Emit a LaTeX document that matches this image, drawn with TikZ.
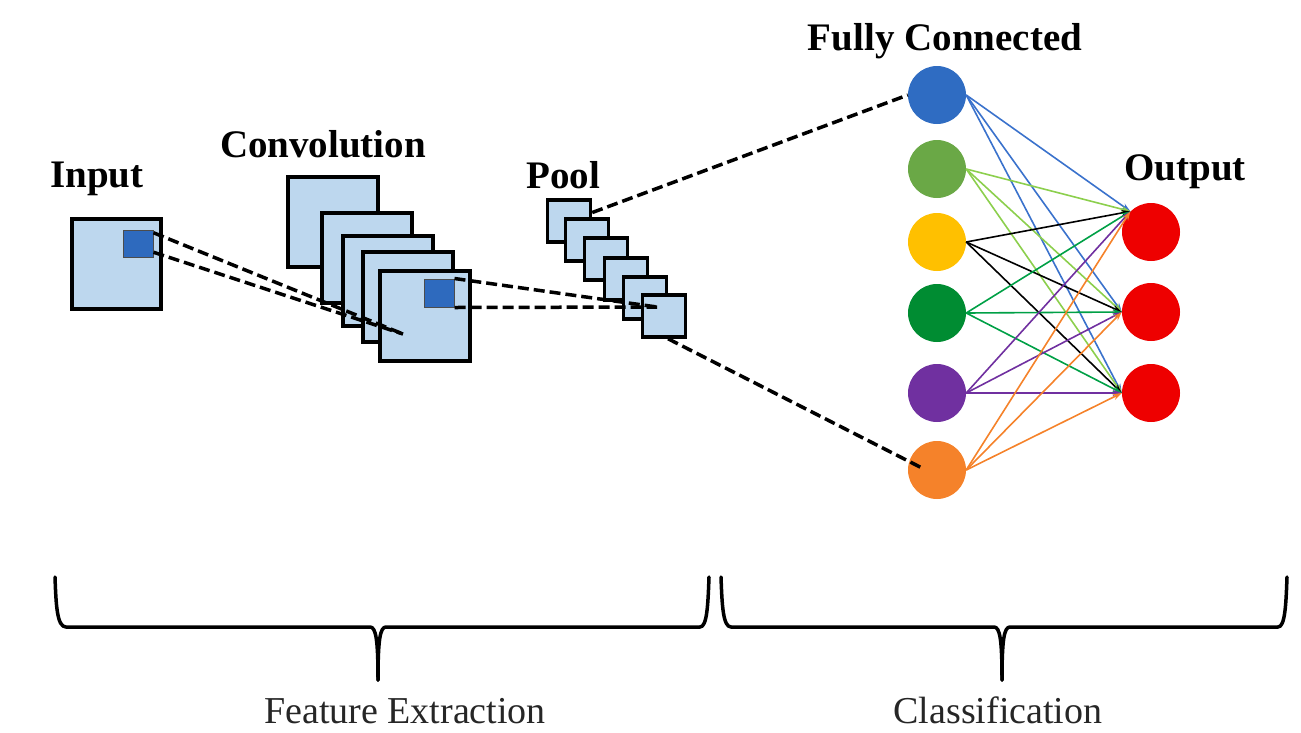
\documentclass[tikz,border=0pt]{standalone}
\usepackage{fontspec}
\setmainfont{Liberation Serif}
\usetikzlibrary{arrows.meta,calc}
\definecolor{sqfill}{HTML}{BDD7EE}
\definecolor{kblue}{HTML}{2E6ABE}
\definecolor{nblue}{HTML}{2F6CC2}
\definecolor{ngreen}{HTML}{6AA846}
\definecolor{nyellow}{HTML}{FFC000}
\definecolor{ndgreen}{HTML}{008C32}
\definecolor{npurple}{HTML}{7030A0}
\definecolor{norange}{HTML}{F5822A}
\definecolor{nred}{HTML}{EE0000}
\definecolor{lblue}{HTML}{3A72CC}
\definecolor{lgreen}{HTML}{8CCF4D}
\definecolor{ldgreen}{HTML}{00A046}
\definecolor{lpurple}{HTML}{7030A0}
\definecolor{lorange}{HTML}{F5822A}
\begin{document}
\begin{tikzpicture}[x=1pt,y=-1pt,
  sq/.style={draw=black, line width=4pt, fill=sqfill, inner sep=0pt, minimum width=90pt, minimum height=90pt},
  psq/.style={sq, line width=3.5pt, minimum width=43pt, minimum height=42pt},
  ksq/.style={draw=black!70, line width=1pt, fill=kblue, inner sep=0pt, minimum width=30pt, minimum height=27pt},
  dsh/.style={black, line width=3.5pt, dash pattern=on 11pt off 5pt},
  neuron/.style={circle, inner sep=0pt, minimum size=58pt},
  lbl/.style={font=\fontsize{39}{45}\selectfont\bfseries, anchor=base, inner sep=0pt},
  bottomlbl/.style={font=\fontsize{38}{44}\selectfont, text=black!85, anchor=base, inner sep=0pt},
  conn/.style={line width=1.6pt, -{Stealth[length=9pt,width=6pt]}},
  brc/.style={line width=3.5pt, line cap=round, line join=round}]
\useasboundingbox (0,0) rectangle (1301,732);

% labels
\node[lbl] (linput) at (97,187) {Input};
\node[lbl] (lconv) at (323,157) {Convolution};
\node[lbl] (lpool) at (563,188) {Pool};
\node[lbl] (lfc) at (945,50) {Fully Connected};
\node[lbl] (lout) at (1185,180) {Output};

% input
\node[sq, minimum width=89pt, minimum height=90pt] (in) at (116,264) {};
\node[ksq] (in1) at (138,244) {};

% convolution stack
\node[sq] (c1) at (333,221.5) {};
\node[sq] (c2) at (366.5,257.5) {};
\node[sq] (c3) at (387.5,281) {};
\node[sq] (c4) at (408,297) {};
\node[sq] (c5) at (424.5,316) {};
\node[ksq, minimum height=28pt] (ci) at (439,293) {};

% pool stack
\node[psq] (p1) at (569,221) {};
\node[psq] (p2) at (587,240) {};
\node[psq] (p3) at (606,259) {};
\node[psq] (p4) at (626,279) {};
\node[psq] (p5) at (645,298) {};
\node[psq] (p6) at (664,316) {};

% fully connected
\node[neuron, fill=nblue] (fc1) at (937,95) {};
\node[neuron, fill=ngreen] (fc2) at (937,169) {};
\node[neuron, fill=nyellow] (fc3) at (937,242) {};
\node[neuron, fill=ndgreen] (fc4) at (937,313) {};
\node[neuron, fill=npurple] (fc5) at (937,393) {};
\node[neuron, fill=norange] (fc6) at (937,470) {};

% output
\node[neuron, fill=nred] (out1) at (1151,232) {};
\node[neuron, fill=nred] (out2) at (1151,312) {};
\node[neuron, fill=nred] (out3) at (1151,393) {};

\foreach \i/\c in {1/lblue,2/lgreen,3/black,4/ldgreen,5/lpurple,6/lorange}{
  \draw[conn,\c] (fc\i.east) -- (out1.north west);
  \draw[conn,\c] (fc\i.east) -- (out2.west);
  \draw[conn,\c] (fc\i.east) -- (out3.west);
}

% dashed connectors
\coordinate (cend) at (403,334);
\coordinate (pend) at (657,307);
\coordinate (oend) at (922,468);
\draw[dsh] (in1.36) -- (cend);
\draw[dsh] (in1.-28) -- (cend);
\draw[dsh] (ci.north east) -- (pend);
\draw[dsh] (ci.south east) -- (pend);
\draw[dsh] (p1.20) -- (fc1.west);
\draw[dsh] (p6.-80) -- (oend);

% braces
\draw[brc] (55,577) .. controls (56,605) and (57,627) .. (66,627) -- (370,627)
  .. controls (376,627) and (378,640) .. (378,680);
\draw[brc] (378,680) .. controls (378,640) and (380,627) .. (386,627) -- (700,627)
  .. controls (707,627) and (708,605) .. (709,577);
\draw[brc] (721,577) .. controls (722,605) and (723,627) .. (731,627) -- (994,627)
  .. controls (1000,627) and (1002,640) .. (1002,680);
\draw[brc] (1002,680) .. controls (1002,640) and (1004,627) .. (1010,627) -- (1278,627)
  .. controls (1285,627) and (1286,605) .. (1287,577);

\node[bottomlbl] (fe) at (405,723) {Feature Extraction};
\node[bottomlbl] (cl) at (998,723) {Classification};
\end{tikzpicture}
\end{document}
